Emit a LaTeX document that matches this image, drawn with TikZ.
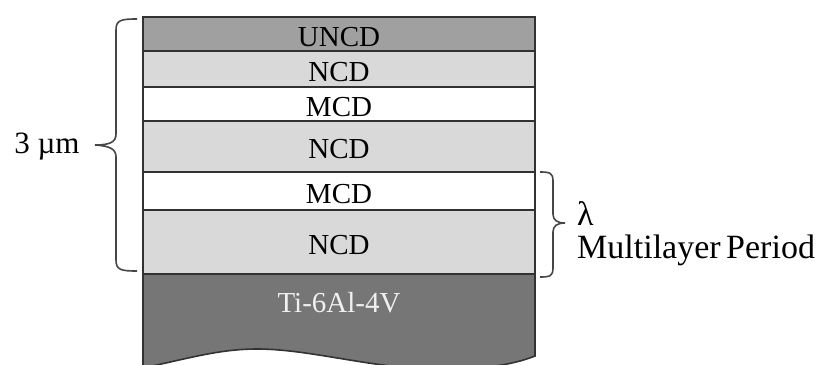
\documentclass[tikz,border=0pt]{standalone}
\usepackage{fontspec}
\setmainfont{Liberation Serif}
\usepackage{xcolor,tikz}

\definecolor{uncdgray}{RGB}{160,160,160}
\definecolor{ncdgray}{RGB}{217,217,217}
\definecolor{tigray}{RGB}{118,118,118}
\definecolor{edgegray}{RGB}{50,50,50}
\definecolor{bracegray}{RGB}{70,70,70}

\begin{document}
\begin{tikzpicture}[x=1pt, y=-1pt,
		layer/.style={draw=edgegray, line width=1.6pt, minimum width=392pt, inner sep=0pt, text height=24.5pt, text depth=0pt, font=\fontsize{29}{30}\selectfont},
		brace/.style={draw=bracegray, line width=1.6pt},
		side/.style={anchor=base west, inner sep=0pt, font=\fontsize{34}{36}\selectfont}]
			\useasboundingbox (0, 0) rectangle (826, 364);
			% substrate
			\begin{scope}
				\clip (0, 0) rectangle (826, 364);
				\draw [fill=tigray, draw=edgegray, line width=1.6pt] (143, 274) -- (535, 274) -- (535, 356)
					.. controls (500, 370) and (450, 371) .. (400, 367)
					.. controls (350, 362) and (300, 349) .. (257, 349)
					.. controls (220, 349) and (190, 358) .. (143, 368) -- cycle;
			\end{scope}
			\draw (339, 312) node [anchor=base, inner sep=0pt, text=white!94!black, font=\fontsize{29}{30}\selectfont] (ti) {Ti-6Al-4V};
			% coating layers
			\draw (339, 34) node [layer, fill=uncdgray, minimum height=34pt] (uncd) {UNCD};
			\draw (339, 69) node [layer, fill=ncdgray, minimum height=36pt] (ncda) {NCD};
			\draw (339, 104) node [layer, fill=white, minimum height=34pt] (mcda) {MCD};
			\draw (339, 146.5) node [layer, fill=ncdgray, minimum height=51pt] (ncdb) {NCD};
			\draw (339, 191) node [layer, fill=white, minimum height=38pt] (mcdb) {MCD};
			\draw (339, 242) node [layer, fill=ncdgray, minimum height=64pt] (ncdc) {NCD};
			% thickness brace
			\draw [brace] (137, 19) .. controls (121, 19) and (116, 20) .. (116, 30) -- (116, 134)
				.. controls (116, 142) and (110, 145) .. (95, 145)
				.. controls (110, 146) and (116, 149) .. (116, 157) -- (116, 260)
				.. controls (116, 270) and (121, 271) .. (137, 271);
			\draw (47, 153) node [anchor=base, inner sep=0pt, font=\fontsize{31}{32}\selectfont] (thick) {3 µm};
			% period brace
			\draw [brace] (540, 172) .. controls (550, 172) and (553, 173) .. (553, 181) -- (553, 214)
				.. controls (553, 220) and (557, 223) .. (565, 223)
				.. controls (557, 223) and (553, 226) .. (553, 232) -- (553, 268)
				.. controls (553, 276) and (550, 277) .. (540, 277);
			\draw (577, 225) node [side] (lam) {λ};
			\draw (577, 258) node [side] (period) {Multilayer\hspace{-3pt} Period};
		\end{tikzpicture}
\end{document}
